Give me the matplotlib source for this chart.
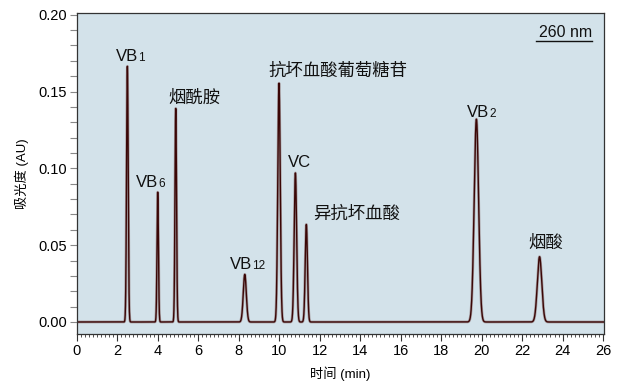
import numpy as np
import matplotlib
matplotlib.use("Agg")
import matplotlib.pyplot as plt
from matplotlib.ticker import MultipleLocator, FormatStrFormatter
from matplotlib.transforms import offset_copy

plt.rcParams['font.family'] = ['Liberation Sans', 'Noto Sans CJK SC', 'DejaVu Sans']

# Peak data
peak_names = ["VB", "VB", "烟酰胺", "VB", "抗坏血酸葡萄糖苷", "VC", "异抗坏血酸", "VB", "烟酸"]
peak_subs = ["1", "6", "", "12", "", "", "", "2", ""]
peak_times = [2.50, 4.00, 4.89, 8.30, 9.99, 10.80, 11.34, 19.74, 22.86]
peak_heights = [0.1665, 0.0845, 0.139, 0.031, 0.1555, 0.097, 0.0635, 0.132, 0.0425]
peak_widths = [0.040, 0.035, 0.038, 0.075, 0.060, 0.060, 0.055, 0.110, 0.110]

# label anchor (centre x, baseline y) in data units
label_x = [2.64, 3.64, 5.83, 8.44, 12.89, 11.01, 13.83, 20.00, 23.16]
label_y = [0.1696, 0.0881, 0.1427, 0.0343, 0.1603, 0.1012, 0.0671, 0.1337, 0.0479]

xlim = (0, 26.05)
ylim = (-0.0078, 0.2011)

t = np.linspace(0, 26.05, 6000)
signal = np.zeros_like(t)
for tr, h, w in zip(peak_times, peak_heights, peak_widths):
    signal += h * np.exp(-0.5 * ((t - tr) / w) ** 2)

fig = plt.figure(figsize=(6.19, 3.83), dpi=100)
ax = fig.add_axes([0.124, 0.128, 0.852, 0.838])
ax.set_facecolor('#d3e2ea')

ax.plot(t, signal, color='#8a7070', lw=2.0, alpha=0.6, solid_capstyle='round')
ax.plot(t, signal, color='#3a0606', lw=1.0)

ax.set_xlim(*xlim)
ax.set_ylim(*ylim)
ax.xaxis.set_major_locator(MultipleLocator(2))
ax.xaxis.set_minor_locator(MultipleLocator(0.2))
ax.yaxis.set_major_locator(MultipleLocator(0.05))
ax.yaxis.set_minor_locator(MultipleLocator(0.01))
ax.yaxis.set_major_formatter(FormatStrFormatter('%.2f'))

ax.tick_params(axis='x', which='major', length=5, width=0.8, color='#333333', labelsize=10.5, pad=2)
ax.tick_params(axis='x', which='minor', length=2.5, width=0.6, color='#333333')
ax.tick_params(axis='y', which='both', length=5, width=0.8, color='#888888', labelsize=10.5, pad=2)
for s in ax.spines.values():
    s.set_color('#333333')
    s.set_linewidth(0.9)

ax.set_xlabel('时间 (min)', fontsize=9.5, labelpad=6)
ax.set_ylabel('吸光度 (AU)', fontsize=9.5, labelpad=7)

# peak labels with small baseline-aligned index
main_texts = []
for name, sub, lx, ly in zip(peak_names, peak_subs, label_x, label_y):
    fs = 12 if name.isascii() else 12.5
    m = ax.text(lx, ly, name, fontsize=fs, color='#111111', ha='left', va='baseline')
    s = ax.text(lx, ly, sub, fontsize=8.5, color='#111111', ha='left', va='baseline') if sub else None
    main_texts.append((m, s, lx, ly))

fig.canvas.draw()
renderer = fig.canvas.get_renderer()
gap = 0.0
for m, s, lx, ly in main_texts:
    w1 = m.get_window_extent(renderer).width
    w2 = s.get_window_extent(renderer).width + gap if s is not None else 0.0
    total = w1 + w2
    px2pt = 72.0 / fig.dpi
    m.set_transform(offset_copy(ax.transData, fig=fig, x=-total / 2 * px2pt, y=0, units='points'))
    if s is not None:
        s.set_transform(offset_copy(ax.transData, fig=fig, x=(-total / 2 + w1 + gap) * px2pt, y=0, units='points'))

ax.text(0.977, 0.925, '260 nm', transform=ax.transAxes, ha='right', va='baseline', fontsize=11.5, color='#111111')
ax.plot([0.871, 0.977], [0.913, 0.913], transform=ax.transAxes, color='#111111', lw=1.0, clip_on=False)

fig.savefig('out.png', dpi=100)
